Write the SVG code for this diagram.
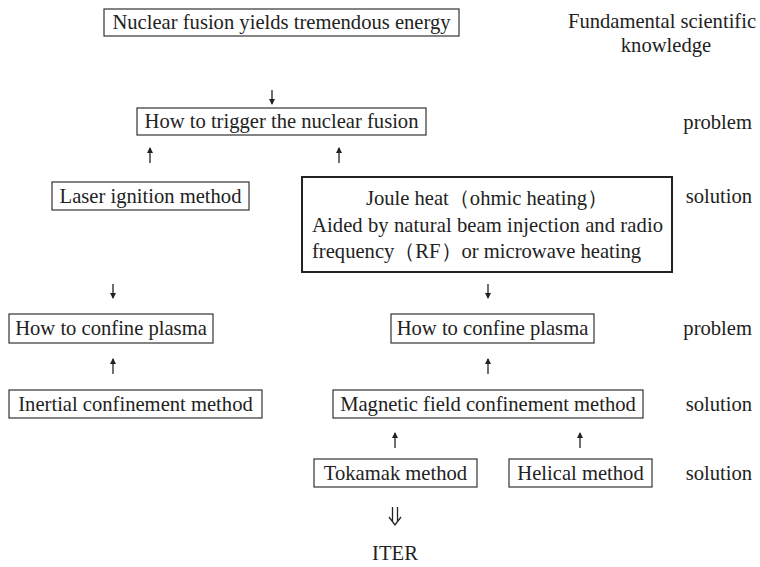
<svg xmlns="http://www.w3.org/2000/svg" width="760" height="567" viewBox="0 0 760 567">
<style>
text{font-family:"Liberation Serif","Times New Roman",serif;font-size:20.6px;fill:#222}
.box{fill:none;stroke:#333;stroke-width:1.2}
.bold{fill:none;stroke:#222;stroke-width:2}
.c{text-anchor:middle}
.r{text-anchor:end}
.arr{stroke:#222;stroke-width:1.3;fill:none}
</style>
<defs>
<marker id="ah" markerWidth="6" markerHeight="7" refX="5" refY="3" orient="auto" markerUnits="userSpaceOnUse">
<path d="M0,0 L6,3 L0,6 Z" fill="#222"/>
</marker>
</defs>
<rect width="760" height="567" fill="#fff"/>
<g id="connectors">
<line class="arr" x1="272" y1="90" x2="272" y2="104" marker-end="url(#ah)"/>
<line class="arr" x1="150" y1="163" x2="150" y2="148" marker-end="url(#ah)"/>
<line class="arr" x1="339" y1="163" x2="339" y2="148" marker-end="url(#ah)"/>
<line class="arr" x1="113" y1="284" x2="113" y2="298" marker-end="url(#ah)"/>
<line class="arr" x1="488" y1="284" x2="488" y2="298" marker-end="url(#ah)"/>
<line class="arr" x1="113" y1="374" x2="113" y2="359" marker-end="url(#ah)"/>
<line class="arr" x1="488" y1="374" x2="488" y2="359" marker-end="url(#ah)"/>
<line class="arr" x1="395" y1="448" x2="395" y2="433" marker-end="url(#ah)"/>
<line class="arr" x1="580" y1="448" x2="580" y2="433" marker-end="url(#ah)"/>
<path class="arr" d="M392.5,507 V522 M397.5,507 V522 M389,517 L395,525 L401,517"/>
</g>
<g id="n-fusion"><rect class="box" x="104" y="9" width="355" height="27"/><text class="c" x="281.5" y="29">Nuclear fusion yields tremendous energy</text></g>
<g id="n-trigger"><rect class="box" x="137" y="108" width="289" height="27"/><text class="c" x="281.5" y="128">How to trigger the nuclear fusion</text></g>
<g id="n-laser"><rect class="box" x="52" y="182" width="197" height="28"/><text class="c" x="150.5" y="203">Laser ignition method</text></g>
<g id="n-joule"><rect class="bold" x="302" y="177" width="370" height="95"/>
<text class="c" x="487" y="205">Joule heat（ohmic heating）</text>
<text x="312" y="232" textLength="351" lengthAdjust="spacing">Aided by natural beam injection and radio</text>
<text x="312" y="258">frequency（RF）or microwave heating</text></g>
<g id="n-confine-l"><rect class="box" x="9" y="314" width="204" height="29"/><text class="c" x="111" y="335">How to confine plasma</text></g>
<g id="n-confine-r"><rect class="box" x="391" y="314" width="203" height="29"/><text class="c" x="492.5" y="335">How to confine plasma</text></g>
<g id="n-inertial"><rect class="box" x="9" y="390" width="253" height="28"/><text class="c" x="135.5" y="411">Inertial confinement method</text></g>
<g id="n-magnetic"><rect class="box" x="333" y="390" width="310" height="28"/><text class="c" x="488" y="411">Magnetic field confinement method</text></g>
<g id="n-tokamak"><rect class="box" x="314" y="459" width="163" height="28"/><text class="c" x="395.5" y="480">Tokamak method</text></g>
<g id="n-helical"><rect class="box" x="509" y="459" width="143" height="28"/><text class="c" x="580.5" y="480">Helical method</text></g>
<g id="n-iter"><text class="c" x="395" y="560">ITER</text></g>
<g id="labels">
<text class="c" x="662" y="28">Fundamental scientific</text>
<text class="c" x="666" y="52">knowledge</text>
<text class="r" x="752" y="129">problem</text>
<text class="r" x="752" y="203">solution</text>
<text class="r" x="752" y="335">problem</text>
<text class="r" x="752" y="411">solution</text>
<text class="r" x="752" y="480">solution</text>
</g>
</svg>
